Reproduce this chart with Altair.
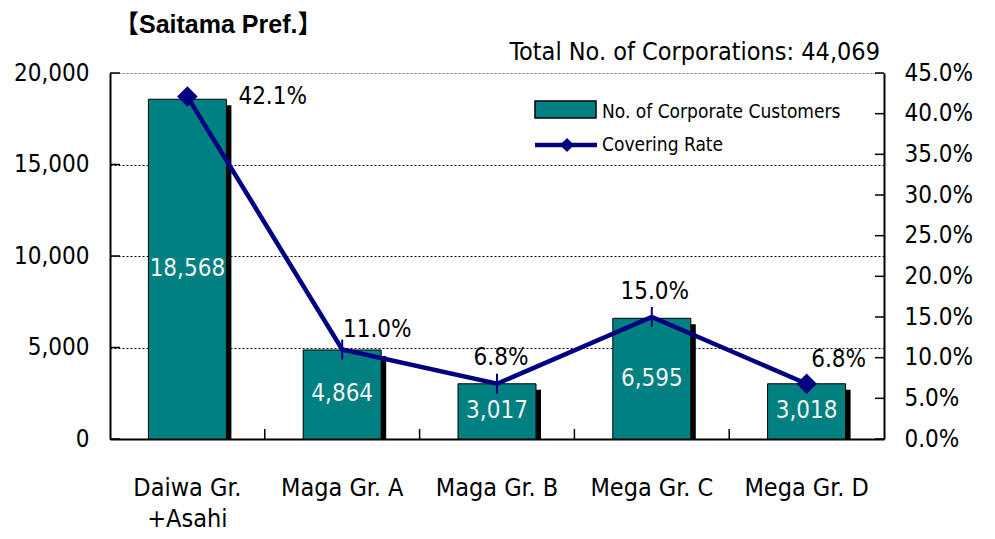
import altair as alt
import pandas as pd

# ---- data ----
categories = ["Daiwa Gr.\n+Asahi", "Maga Gr. A", "Maga Gr. B", "Mega Gr. C", "Mega Gr. D"]
customers = [18568, 4864, 3017, 6595, 3018]
rates = [0.421, 0.110, 0.068, 0.150, 0.068]
left_ticks = [0, 5000, 10000, 15000, 20000]
right_ticks = [0.0, 0.05, 0.10, 0.15, 0.20, 0.25, 0.30, 0.35, 0.40, 0.45]
title_text = "【Saitama Pref.】"
total_text = "Total No. of Corporations: 44,069"
legend_bar = "No. of Corporate Customers"
legend_line = "Covering Rate"

# ---- layout / style constants ----
W, H = 774, 366
FONT = "DejaVu Sans Condensed, Liberation Sans Narrow, Arial Narrow, sans-serif"
TEAL = "#008080"
NAVY = "#000080"
BAR_SIZE = 78
diamond_idx = [0, 4]
# per-point label offsets (dx, dy, align)
rate_label_offsets = [(51, 0, "left"), (35, -20, "center"), (4, -26, "center"),
                      (3, -25, "center"), (32, -24, "center")]

df = pd.DataFrame({"cat": categories, "customers": customers, "rate": rates,
                   "idx": list(range(len(categories)))})
df_left_ticks = pd.DataFrame({"v": left_ticks})
df_right_ticks = pd.DataFrame({"v": right_ticks})
df_bounds = pd.DataFrame({"cat": categories[1:]})
one = alt.Data(values=[{}])

x_scale = alt.Scale(domain=categories, paddingInner=0, paddingOuter=0)
x_axis = alt.Axis(title=None, labelAngle=0, labelFontSize=25, labelFont=FONT,
                  labelColor="black", labelPadding=36, labelLineHeight=31,
                  labelExpr="split(datum.label, '\\n')", ticks=False,
                  domainColor="black", domainWidth=2)
x_enc = alt.X("cat:N", sort=categories, scale=x_scale, axis=x_axis)

yl_scale = alt.Scale(domain=[0, 20000], nice=False)
yl_axis = alt.Axis(title=None, values=left_ticks, format=",d", ticks=False,
                   labelPadding=21, labelFontSize=24, labelFont=FONT, labelColor="black",
                   domainColor="black", domainWidth=2, grid=True,
                   gridColor={"condition": {"test": "datum.value === 20000", "value": "#888888"},
                              "value": "black"},
                   gridDash=[2, 2], gridWidth=1)

yr_scale = alt.Scale(domain=[0, 0.45], nice=False)
yr_axis = alt.Axis(title=None, orient="right", values=right_ticks, format=".1%", ticks=False,
                   labelPadding=20, labelFontSize=24, labelFont=FONT, labelColor="black",
                   domainColor="black", domainWidth=2, grid=False)

# ---- left (customers) group ----
shadow = alt.Chart(df).mark_bar(color="black", size=BAR_SIZE, xOffset=5, yOffset=6, clip=True).encode(
    x=x_enc, y=alt.Y("customers:Q", scale=yl_scale, axis=yl_axis))
bars = alt.Chart(df).mark_bar(color=TEAL, stroke="black", strokeWidth=1, size=BAR_SIZE).encode(
    x=x_enc, y=alt.Y("customers:Q", scale=yl_scale, axis=yl_axis))
bar_labels = alt.Chart(df).transform_calculate(mid="datum.customers / 2").mark_text(
    font=FONT, fontSize=24, color="#f2f2f2", baseline="middle").encode(
    x=x_enc, y=alt.Y("mid:Q", scale=yl_scale, axis=yl_axis),
    text=alt.Text("customers:Q", format=",d"))
left_tick_marks = alt.Chart(df_left_ticks).mark_rule(color="black", strokeWidth=1.5).encode(
    y=alt.Y("v:Q", scale=yl_scale, axis=yl_axis), x=alt.value(0), x2=alt.value(10))
x_bound_ticks = alt.Chart(df_bounds).mark_rule(color="black", strokeWidth=1.5).encode(
    x=alt.X("cat:N", sort=categories, scale=x_scale, axis=x_axis, bandPosition=0),
    y=alt.value(H), y2=alt.value(H - 10))

left_group = alt.layer(shadow, bars, bar_labels, left_tick_marks, x_bound_ticks)

# ---- right (rate) group ----
line = alt.Chart(df).mark_line(color=NAVY, strokeWidth=4.5).encode(
    x=x_enc, y=alt.Y("rate:Q", scale=yr_scale, axis=yr_axis))
diamonds = alt.Chart(df).transform_filter(
    alt.FieldOneOfPredicate(field="idx", oneOf=diamond_idx)).mark_point(
    shape="diamond", filled=True, color=NAVY, size=420, opacity=1).encode(
    x=x_enc, y=alt.Y("rate:Q", scale=yr_scale, axis=yr_axis))
vticks = alt.Chart(df).transform_filter(
    {"not": alt.FieldOneOfPredicate(field="idx", oneOf=diamond_idx)}).mark_point(
    shape="M0,-1L0,1", filled=False, color=NAVY, strokeWidth=2, size=400, opacity=1).encode(
    x=x_enc, y=alt.Y("rate:Q", scale=yr_scale, axis=yr_axis))

rate_labels = []
for i, (dx, dy, al) in enumerate(rate_label_offsets):
    rate_labels.append(
        alt.Chart(df).transform_filter(alt.datum.idx == i).mark_text(
            font=FONT, fontSize=24, color="black", dx=dx, dy=dy, align=al, baseline="middle").encode(
            x=x_enc, y=alt.Y("rate:Q", scale=yr_scale, axis=yr_axis),
            text=alt.Text("rate:Q", format=".1%")))

right_tick_marks = alt.Chart(df_right_ticks).mark_rule(color="black", strokeWidth=1.5).encode(
    y=alt.Y("v:Q", scale=yr_scale, axis=yr_axis), x=alt.value(W - 9), x2=alt.value(W))

# legend (drawn manually, inside plot)
leg_rect = alt.Chart(one).mark_rect(color=TEAL, stroke="black", strokeWidth=1.5).encode(
    x=alt.value(425), x2=alt.value(486), y=alt.value(28), y2=alt.value(45))
leg_t1 = alt.Chart(one).mark_text(text=legend_bar, font=FONT, fontSize=19, align="left",
                                  baseline="middle", color="black").encode(
    x=alt.value(492), y=alt.value(39))
leg_line = alt.Chart(one).mark_rule(color=NAVY, strokeWidth=4.5).encode(
    x=alt.value(425), x2=alt.value(487), y=alt.value(72))
leg_dia = alt.Chart(one).mark_point(shape="diamond", filled=True, color=NAVY, size=200,
                                    opacity=1).encode(x=alt.value(457), y=alt.value(72))
leg_t2 = alt.Chart(one).mark_text(text=legend_line, font=FONT, fontSize=19, align="left",
                                  baseline="middle", color="black").encode(
    x=alt.value(492), y=alt.value(72))

# titles
title_mark = alt.Chart(one).mark_text(text=title_text, font="Liberation Sans, Noto Sans CJK JP, sans-serif",
                                      fontWeight="bold", fontSize=25, align="left",
                                      baseline="middle", color="black").encode(
    x=alt.value(4), y=alt.value(-48))
total_mark = alt.Chart(one).mark_text(text=total_text, font=FONT, fontSize=25, align="right",
                                      baseline="middle", color="black").encode(
    x=alt.value(770), y=alt.value(-21))

right_group = alt.layer(line, diamonds, vticks, *rate_labels, right_tick_marks,
                        leg_rect, leg_t1, leg_line, leg_dia, leg_t2, title_mark, total_mark)

chart = alt.layer(left_group, right_group).resolve_scale(y="independent").properties(
    width=W, height=H,
    autosize=alt.AutoSizeParams(type="none"),
    padding={"left": 102, "top": 65, "right": 100, "bottom": 92},
).configure_view(stroke=None).configure(background="white")

chart.save("out.html", embed_options={"renderer": "svg", "actions": False})
